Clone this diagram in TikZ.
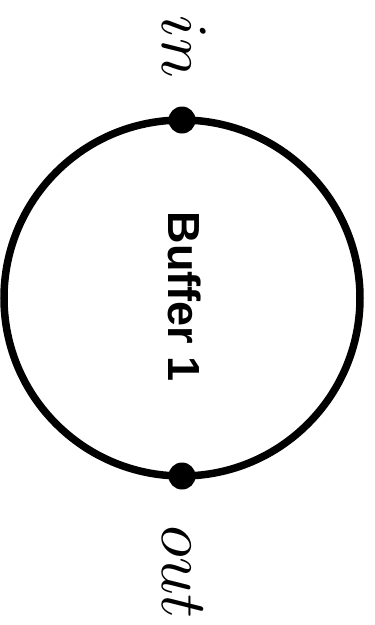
\documentclass[tikz,border=0pt]{standalone}
\usepackage{fontspec}
\newfontfamily\labelfont{Liberation Sans}
\begin{document}
\begin{tikzpicture}[x=1pt,y=-1pt,
  ring/.style={draw=black,line width=7.5pt},
  port/.style={circle,fill=black,inner sep=0pt,minimum size=27pt},
  plabel/.style={rotate=-90,scale=6.6,anchor=base,inner sep=0pt,font=\fontsize{10}{12}\selectfont},
  blabel/.style={rotate=-90,anchor=base,inner sep=0pt,font=\labelfont\bfseries\fontsize{45}{45}\selectfont}]
\useasboundingbox (0,0) rectangle (375,625);
\node[ring,circle,minimum size=356pt,inner sep=0pt,outer sep=0pt] (buf) at (182,298) {};
\node[blabel] (name) at (168,297) {Buffer 1};
\node[port] (in) at (buf.north) {};
\node[port] (out) at (buf.south) {};
\node[plabel] (inl) at (162,47) {$in$};
\node[plabel] (outl) at (162,572) {$out$};
\end{tikzpicture}
\end{document}
